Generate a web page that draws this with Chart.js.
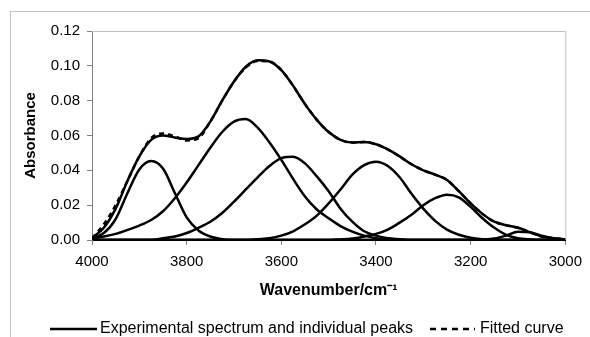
<!DOCTYPE html>
<html>
<head>
<meta charset="utf-8">
<script src="https://cdn.jsdelivr.net/npm/chart.js@4.4.1/dist/chart.umd.min.js"></script>
<style>
    html, body { margin: 0; padding: 0; background: #fff; overflow: hidden; }
    #frame { position: absolute; left: 10px; top: 11px; width: 700px; height: 400px;
             border-left: 1px solid #c4c4c4; border-top: 1px solid #c4c4c4; }
    #spectrumChart { position: absolute; left: 0; top: 0; }
</style>
</head>
<body>
<div id="frame"></div>
<canvas id="spectrumChart" width="590" height="337"></canvas>
<script>
// wavenumbers (cm-1), read every 25 from 4000 down to 3000
const wavenumbers = [
    4000, 3975, 3950, 3925, 3900, 3875, 3850, 3825, 3800, 3775,
    3750, 3725, 3700, 3675, 3650, 3625, 3600, 3575, 3550, 3525,
    3500, 3475, 3450, 3425, 3400, 3375, 3350, 3325, 3300, 3275,
    3250, 3225, 3200, 3175, 3150, 3125, 3100, 3075, 3050, 3025, 3000
];

const experimental = [
    0.001, 0.007, 0.018, 0.034, 0.048, 0.0575, 0.060, 0.0588, 0.058, 0.0595,
    0.068, 0.080, 0.091, 0.0995, 0.1032, 0.1025, 0.0975, 0.0885, 0.078, 0.069,
    0.062, 0.0575, 0.056, 0.0562, 0.055, 0.052, 0.048, 0.0435, 0.040, 0.0375,
    0.0345, 0.028, 0.021, 0.015, 0.0105, 0.0085, 0.007, 0.0045, 0.002, 0.001, 0.0003
];

const fitted = [
    0.001, 0.009, 0.020, 0.034, 0.048, 0.0585, 0.0612, 0.0595, 0.0572, 0.0585,
    0.068, 0.080, 0.091, 0.099, 0.1028, 0.1025, 0.0975, 0.0885, 0.078, 0.069,
    0.062, 0.0575, 0.056, 0.0562, 0.055, 0.052, 0.048, 0.0435, 0.040, 0.0375,
    0.0345, 0.028, 0.021, 0.015, 0.0105, 0.0085, 0.007, 0.0045, 0.002, 0.001, 0.0003
];

const peak1 = [
    0.001, 0.004, 0.012, 0.027, 0.0405, 0.0453, 0.041, 0.027, 0.013, 0.0055,
    0.002, 0.0005, 0, 0, 0, 0, 0, 0, 0, 0,
    0, 0, 0, 0, 0, 0, 0, 0, 0, 0,
    0, 0, 0, 0, 0, 0, 0, 0, 0, 0, 0
];

const peak2 = [
    0.001, 0.002, 0.0035, 0.0058, 0.0083, 0.0115, 0.0165, 0.024, 0.033, 0.043,
    0.053, 0.062, 0.068, 0.0695, 0.0645, 0.056, 0.046, 0.035, 0.025, 0.0175,
    0.0125, 0.008, 0.0048, 0.0025, 0.001, 0.0005, 0.0002, 0, 0, 0,
    0, 0, 0, 0, 0, 0, 0, 0, 0, 0, 0
];

const peak3 = [
    0, 0, 0, 0, 0, 0, 0.001, 0.002, 0.004, 0.007,
    0.0105, 0.0155, 0.022, 0.029, 0.036, 0.0425, 0.047, 0.0478, 0.044, 0.0365,
    0.028, 0.018, 0.0105, 0.005, 0.0025, 0.001, 0.0005, 0, 0, 0,
    0, 0, 0, 0, 0, 0, 0, 0, 0, 0, 0
];

const peak4 = [
    0, 0, 0, 0, 0, 0, 0, 0, 0, 0,
    0, 0, 0, 0, 0.0005, 0.001, 0.0025, 0.005, 0.009, 0.014,
    0.021, 0.029, 0.0375, 0.043, 0.045, 0.0425, 0.036, 0.0265, 0.018, 0.011,
    0.006, 0.003, 0.0013, 0.0005, 0.0002, 0, 0, 0, 0, 0, 0
];

const peak5 = [
    0, 0, 0, 0, 0, 0, 0, 0, 0, 0,
    0, 0, 0, 0, 0, 0, 0, 0, 0, 0,
    0, 0.0003, 0.0008, 0.002, 0.0035, 0.006, 0.010, 0.0145, 0.020, 0.024,
    0.026, 0.0245, 0.019, 0.0125, 0.007, 0.003, 0.001, 0.0003, 0, 0, 0
];

const peak6 = [
    0, 0, 0, 0, 0, 0, 0, 0, 0, 0,
    0, 0, 0, 0, 0, 0, 0, 0, 0, 0,
    0, 0, 0, 0, 0, 0, 0, 0, 0, 0,
    0, 0, 0, 0.0002, 0.0008, 0.0025, 0.0048, 0.0045, 0.0025, 0.001, 0.0003
];

const legendLabels = ['Experimental spectrum and individual peaks', 'Fitted curve'];

const FONT = 'Arial, "Liberation Sans", sans-serif';

function toPoints(values) {
    return values.map((v, i) => ({ x: wavenumbers[i], y: v }));
}

function curve(values, dashed) {
    return {
        data: toPoints(values),
        borderColor: '#000',
        borderWidth: 2.5,
        borderDash: dashed ? [5, 4] : [],
        pointRadius: 0,
        fill: false,
        cubicInterpolationMode: 'monotone',
    };
}

// light grey frame on the top and right side of the plot area
const plotFrame = {
    id: 'plotFrame',
    beforeDatasetsDraw(chart) {
        const { ctx, chartArea: a } = chart;
        ctx.save();
        ctx.strokeStyle = '#c0c0c0';
        ctx.lineWidth = 1;
        ctx.beginPath();
        ctx.moveTo(a.left, a.top + 0.5);
        ctx.lineTo(a.right + 0.5, a.top + 0.5);
        ctx.lineTo(a.right + 0.5, a.bottom);
        ctx.stroke();
        ctx.restore();
    }
};

// one-row legend under the axis title
const legendRow = {
    id: 'legendRow',
    afterDraw(chart) {
        const ctx = chart.ctx;
        const y = 329;
        ctx.save();
        ctx.strokeStyle = '#000';
        ctx.lineWidth = 2.5;
        ctx.beginPath();
        ctx.moveTo(50, y);
        ctx.lineTo(97, y);
        ctx.stroke();
        ctx.setLineDash([6, 5]);
        ctx.beginPath();
        ctx.moveTo(430, y);
        ctx.lineTo(475, y);
        ctx.stroke();
        ctx.setLineDash([]);
        ctx.fillStyle = '#000';
        ctx.font = '16px ' + FONT;
        ctx.textBaseline = 'middle';
        ctx.fillText(legendLabels[0], 100, y);
        ctx.fillText(legendLabels[1], 480, y);
        ctx.restore();
    }
};

new Chart(document.getElementById('spectrumChart'), {
    type: 'line',
    data: {
        datasets: [
            curve(fitted, true),
            curve(experimental, false),
            curve(peak1, false),
            curve(peak2, false),
            curve(peak3, false),
            curve(peak4, false),
            curve(peak5, false),
            curve(peak6, false),
        ]
    },
    options: {
        responsive: false,
        animation: false,
        layout: { padding: { top: 31, right: 19, left: 0, bottom: 37 } },
        plugins: {
            legend: { display: false },
            tooltip: { enabled: false },
        },
        scales: {
            x: {
                type: 'linear',
                reverse: true,
                min: 3000,
                max: 4000,
                afterFit: (scale) => { scale.height = 60; },
                ticks: {
                    stepSize: 200,
                    padding: 8,
                    color: '#000',
                    font: { family: FONT, size: 15 },
                    maxRotation: 0,
                    callback: (v) => String(v),
                },
                grid: { drawOnChartArea: false, tickLength: 5, color: '#808080' },
                border: { color: '#000', width: 1 },
                title: {
                    display: true,
                    text: 'Wavenumber/cm\u207B\u00B9',
                    color: '#000',
                    font: { family: FONT, size: 16, weight: 'bold' },
                    padding: { top: 0, bottom: 0 },
                },
            },
            y: {
                min: 0,
                max: 0.12,
                afterFit: (scale) => { scale.width = 92; },
                ticks: {
                    stepSize: 0.02,
                    padding: 7,
                    color: '#000',
                    font: { family: FONT, size: 15 },
                    callback: (v) => v.toFixed(2),
                },
                grid: { drawOnChartArea: false, tickLength: 5, color: '#808080' },
                border: { color: '#808080', width: 1 },
                title: {
                    display: true,
                    text: 'Absorbance',
                    color: '#000',
                    font: { family: FONT, size: 15, weight: 'bold' },
                    padding: { top: 22, bottom: 0 },
                },
            }
        }
    },
    plugins: [plotFrame, legendRow]
});
</script>
</body>
</html>
